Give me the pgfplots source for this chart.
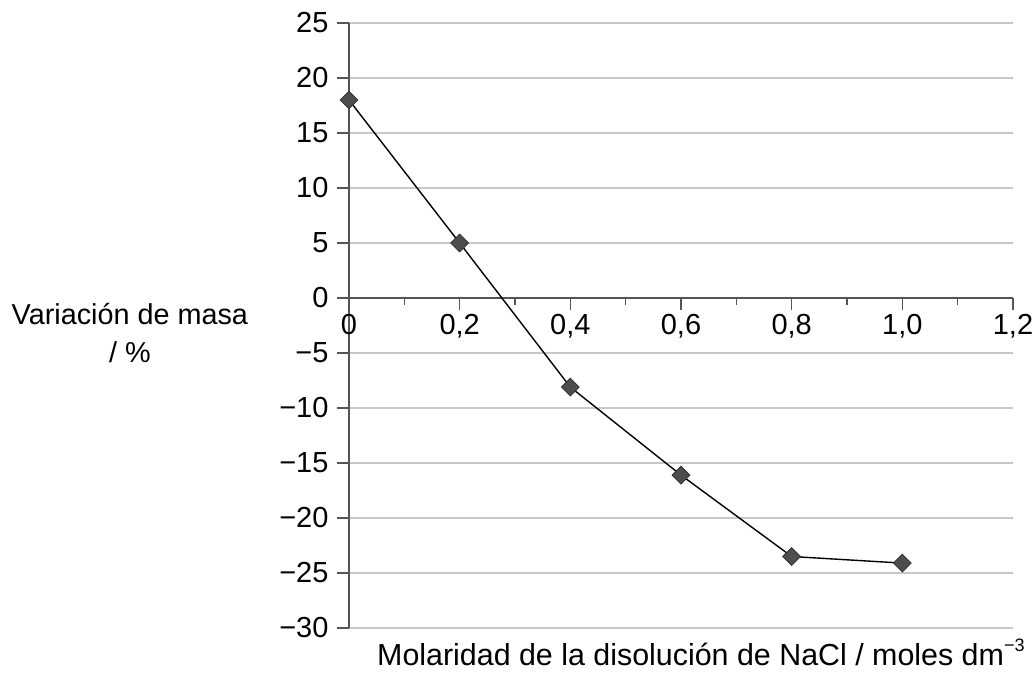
\documentclass[border=0pt]{standalone}
\usepackage{pgfplots}
\pgfplotsset{compat=1.18}
\usepackage{fontspec}
\setmainfont{Liberation Sans}
\definecolor{axisgray}{HTML}{555555}
\definecolor{gridgray}{HTML}{C8C8C8}
\definecolor{markgray}{HTML}{4D4D4D}
\begin{document}
\begin{tikzpicture}[font=\fontsize{29bp}{34bp}\selectfont]
    \begin{axis}[
            at={(0,0)}, anchor=origin,
            x=553.33bp, y=11bp,
            xmin=0, xmax=1.2,
            ymin=-30, ymax=25,
            axis x line*=middle,
            axis y line*=left,
            hide obscured x ticks=false,
            axis line style={axisgray, line width=1.4bp},
            xtick={0,0.2,0.4,0.6,0.8,1.0,1.2},
            xticklabels={0,{0,2},{0,4},{0,6},{0,8},{1,0},{1,2}},
            minor xtick={0.1,0.3,0.5,0.7,0.9,1.1},
            ytick={-30,-25,-20,-15,-10,-5,0,5,10,15,20,25},
            yticklabels={−30,−25,−20,−15,−10,−5,0,5,10,15,20,25},
            tick align=outside,
            major tick length=12bp,
            minor tick length=7bp,
            tick style={axisgray, line width=1.4bp},
            ymajorgrids=true,
            grid style={gridgray, line width=1.2bp},
            xticklabel style={yshift=-1bp},
            yticklabel style={xshift=-5bp},
            xlabel={Molaridad de la disolución de NaCl / moles dm\raisebox{0.9ex}{\fontsize{18bp}{20bp}\selectfont −3}},
            xlabel style={at={(axis description cs:0.53,-0.04)}, anchor=center,
                font=\fontsize{30.4bp}{36bp}\selectfont},
            ylabel={Variación de masa\\/ \%},
            ylabel style={at={(axis description cs:-0.33,0.487)}, anchor=center,
                rotate=-90, align=center, font=\fontsize{28.8bp}{38bp}\selectfont},
            clip=false,
        ]
        \addplot[
            color=black,
            line width=1.4bp,
            mark=square*,
            mark size=6.3bp,
            mark options={rotate=45, fill=markgray, draw=black!80, line width=0.8bp},
        ]
        coordinates {
        (0,18)(0.2,5)(0.4,-8.1)(0.6,-16.1)(0.8,-23.5)(1.0,-24.1)
        };
    \end{axis}
    \pgfresetboundingbox
    \useasboundingbox (-349bp,-377bp) rectangle (686bp,298bp);
\end{tikzpicture}
\end{document}
